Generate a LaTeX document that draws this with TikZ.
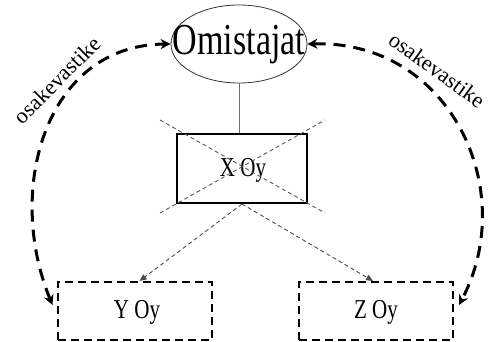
\documentclass[tikz,border=0pt]{standalone}
\usepackage{graphicx}
\usepackage{fontspec}
\setmainfont{Liberation Serif}
\usetikzlibrary{arrows.meta,shapes.geometric,calc}
\newcommand{\vstretch}[1]{\scalebox{1}[1.3]{#1}}
\begin{document}
\begin{tikzpicture}[x=1pt,y=-1pt,
  ownshape/.style={ellipse, draw=black!80, line width=0.8pt, minimum width=136pt, minimum height=78pt, inner sep=0pt},
  solidbox/.style={draw=black, line width=2pt, minimum width=130pt, minimum height=69pt, inner sep=0pt},
  dashbox/.style={draw=black, line width=2pt, dash pattern=on 8pt off 5pt, minimum width=154pt, minimum height=58pt, inner sep=0pt},
  bigtxt/.style={font=\fontsize{34}{34}\selectfont, inner sep=0pt},
  boxtxt/.style={font=\fontsize{21}{21}\selectfont, inner sep=0pt},
  curvetxt/.style={font=\fontsize{22}{22}\selectfont, inner sep=0pt},
  crossline/.style={draw=black!65, line width=0.9pt, dash pattern=on 4pt off 3pt},
  thinarrow/.style={draw=black!70, line width=0.9pt, dash pattern=on 4pt off 3pt, -{Triangle[length=7pt,width=6pt]}},
  bigarrow/.style={draw=black, line width=3pt, dash pattern=on 12pt off 8pt, {Stealth[length=10pt,width=10pt]}-{Stealth[length=10pt,width=10pt]}},
  link/.style={draw=black!35!brown!50!gray, line width=0.9pt}
]
\useasboundingbox (0,0) rectangle (490,342);

\node[ownshape] (own) at (239,44) {};
\node[bigtxt] (ownlbl) at (239,45) {\vstretch{Omistajat}};

\node[solidbox] (xoy) at (242,168.5) {};
\node[boxtxt] (xoylbl) at (243,170) {\vstretch{X Oy}};

\node[dashbox] (ybox) at (134.5,311) {};
\node[boxtxt] (yboxlbl) at (137,312) {\vstretch{Y Oy}};

\node[dashbox] (zbox) at (376,311) {};
\node[boxtxt] (zboxlbl) at (376,312) {\vstretch{Z Oy}};

\draw[link] (own.south) -- (own.south |- xoy.north);

\coordinate (cA) at (160,120);
\coordinate (cB) at (325,213);
\coordinate (cC) at (160,213);
\coordinate (cD) at (325,120);
\draw[crossline] (cA) -- (cB);
\draw[crossline] (cC) -- (cD);

\draw[thinarrow] (xoy.south) -- ([xshift=5pt]ybox.north);
\draw[thinarrow] (xoy.south) -- ([xshift=-3pt]zbox.north);

\draw[bigarrow] ([xshift=-4pt,yshift=6pt]ybox.west) .. controls (5,190) and (45,45) .. (own.west);
\draw[bigarrow] (own.east) .. controls (450,40) and (520,190) .. ([xshift=5pt,yshift=6pt]zbox.east);

\node[curvetxt, rotate=45] (lbl1) at (57,80) {osakevastike};
\node[curvetxt, rotate=-36] (lbl2) at (437,70) {osakevastike};
\end{tikzpicture}
\end{document}
